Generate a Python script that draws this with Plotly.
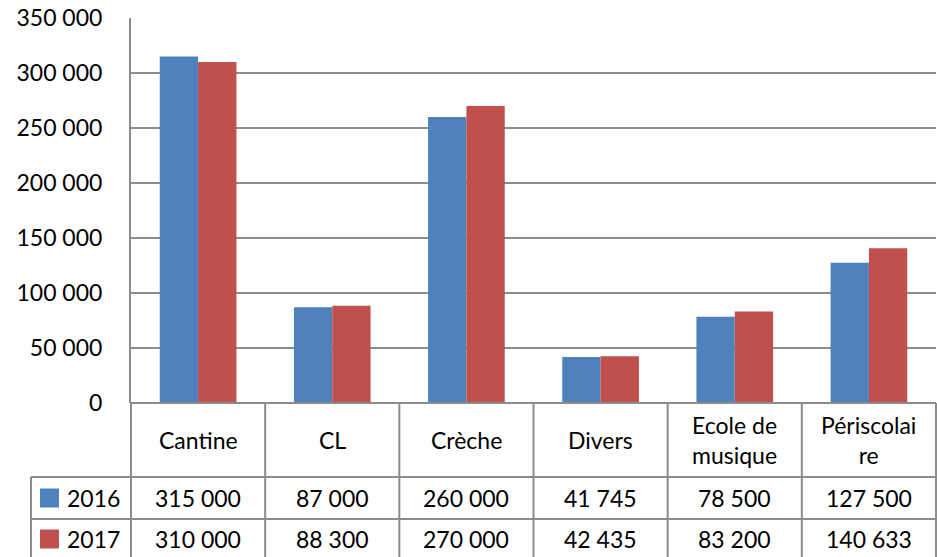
import plotly.graph_objects as go

# ---- data ----
categories = ["Cantine", "CL", "Crèche", "Divers", "Ecole de musique", "Périscolaire"]
category_labels = ["Cantine", "CL", "Crèche", "Divers", "Ecole de<br>musique", "Périscolai<br>re"]
series_names = ["2016", "2017"]
values_2016 = [315000, 87000, 260000, 41745, 78500, 127500]
values_2017 = [310000, 88300, 270000, 42435, 83200, 140633]
y_ticks = [0, 50000, 100000, 150000, 200000, 250000, 300000, 350000]

# ---- style ----
W, H = 937, 557
colors = ["#4F81BD", "#C0504D"]
grid = "#8C8C8C"
FONT = "Lato"
TFS = 23

def fmt(v):
    return f"{v:,}".replace(",", " ")

def px(x):
    return x / W

def py(y):
    return 1 - y / H

plot_left, plot_right = 131, 936
plot_top, plot_bottom = 18, 403
row1_top, row2_top, row2_bottom = 477, 519, 561
legend_left = 31

fig = go.Figure()
for name, vals, c in zip(series_names, [values_2016, values_2017], colors):
    fig.add_trace(go.Bar(x=categories, y=vals, name=name, marker_color=c,
                         marker_line_width=0, showlegend=False, hoverinfo="skip"))

shapes = []
annotations = []
ncat = len(categories)
colw = (plot_right - plot_left) / ncat
line = dict(color=grid, width=2)

# horizontal table lines
shapes.append(dict(type="line", xref="paper", yref="paper", x0=px(plot_left), x1=px(plot_right),
                   y0=py(plot_bottom), y1=py(plot_bottom), line=line))
for yy in (row1_top, row2_top):
    shapes.append(dict(type="line", xref="paper", yref="paper", x0=px(legend_left), x1=px(plot_right),
                       y0=py(yy), y1=py(yy), line=line))
# vertical lines
for i in range(ncat + 1):
    xx = plot_left + i * colw
    shapes.append(dict(type="line", xref="paper", yref="paper", x0=px(xx), x1=px(xx),
                       y0=py(plot_bottom), y1=py(row2_bottom), line=line))
shapes.append(dict(type="line", xref="paper", yref="paper", x0=px(legend_left), x1=px(legend_left),
                   y0=py(row1_top), y1=py(row2_bottom), line=line))

# header labels
for i, lab in enumerate(category_labels):
    cx = plot_left + (i + 0.5) * colw
    annotations.append(dict(xref="paper", yref="paper", x=px(cx), y=py(440), text=lab,
                            showarrow=False, xanchor="center", yanchor="middle",
                            font=dict(family=FONT, size=TFS, color="black")))

# data rows
rows = [(values_2016, (row1_top + row2_top) / 2), (values_2017, (row2_top + row2_bottom) / 2 - 1)]
for (vals, cy), name, c in zip(rows, series_names, colors):
    for i, v in enumerate(vals):
        cx = plot_left + (i + 0.5) * colw
        annotations.append(dict(xref="paper", yref="paper", x=px(cx), y=py(cy), text=fmt(v),
                                showarrow=False, xanchor="center", yanchor="middle",
                                font=dict(family=FONT, size=TFS, color="black")))
    # legend key
    shapes.append(dict(type="rect", xref="paper", yref="paper", x0=px(40), x1=px(59),
                       y0=py(cy - 9.5), y1=py(cy + 9.5), fillcolor=c, line=dict(width=0)))
    annotations.append(dict(xref="paper", yref="paper", x=px(65), y=py(cy), text=name,
                            showarrow=False, xanchor="left", yanchor="middle",
                            font=dict(family=FONT, size=TFS, color="black")))

fig.update_layout(
    width=W, height=H,
    margin=dict(l=0, r=0, t=0, b=0, autoexpand=False),
    paper_bgcolor="white", plot_bgcolor="white",
    barmode="group", bargap=1.5 / 3.5, bargroupgap=0,
    shapes=shapes, annotations=annotations,
    xaxis=dict(domain=[px(plot_left), px(plot_right)], showticklabels=False, ticks="",
               showgrid=False, showline=False, zeroline=False, automargin=False),
    yaxis=dict(domain=[py(plot_bottom), py(plot_top)], range=[0, 350000],
               tickvals=y_ticks, ticktext=[fmt(v) for v in y_ticks],
               showgrid=True, gridcolor=grid, gridwidth=2, zeroline=False,
               showline=True, linecolor=grid, linewidth=2, automargin=False,
               ticks="", ticklabelstandoff=22,
               tickfont=dict(family=FONT, size=23, color="black")),
)

fig.write_html(
    "out.html",
    config={"displayModeBar": False},
    post_script="document.body.style.margin='0';document.body.style.overflow='hidden';"
                "document.documentElement.style.overflow='hidden';",
)
